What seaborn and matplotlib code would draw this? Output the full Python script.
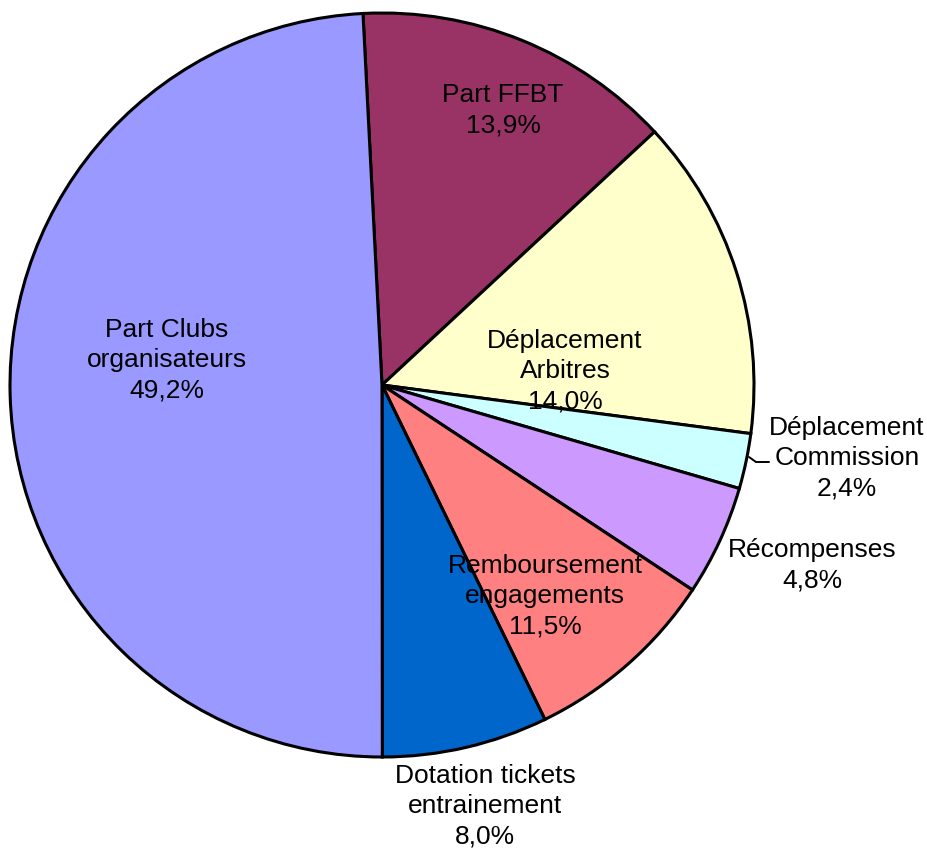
import matplotlib
matplotlib.use("Agg")
import matplotlib.pyplot as plt
import seaborn as sns

categories = ["Part FFBT", "Déplacement\nArbitres", "Déplacement\nCommission",
              "Récompenses", "Remboursement\nengagements",
              "Dotation tickets\nentrainement", "Part Clubs\norganisateurs"]
values = [13.9, 14.0, 2.4, 4.8, 8.5, 7.2, 49.2]
pct_labels = ["13,9%", "14,0%", "2,4%", "4,8%", "11,5%", "8,0%", "49,2%"]
colors = ["#993366", "#FFFFCC", "#CCFFFF", "#CC99FF", "#FF8080", "#0066CC", "#9999FF"]

sns.set_style("white")
plt.rcParams["font.family"] = ["Liberation Sans", "DejaVu Sans"]

W, H = 928, 850
cx, cy, R = 382, 385, 372
fig = plt.figure(figsize=(W / 100, H / 100), dpi=100)
ax = fig.add_axes([0, 0, 1, 1])

ax.pie(values, colors=colors, startangle=92.93, counterclock=False, radius=1.0,
       wedgeprops=dict(edgecolor="black", linewidth=2.2))

ax.set_xlim(-cx / R, (W - cx) / R)
ax.set_ylim(-(H - cy) / R, cy / R)
ax.set_aspect("equal")
ax.axis("off")

# label positions in pixels (layout)
label_px = [(503, 110), (565, 371), (847, 458), (812, 565), (545, 596), (485, 806), (167, 360)]
for cat, pct, (px, py) in zip(categories, pct_labels, label_px):
    ax.text((px - cx) / R, (cy - py) / R, f"{cat}\n{pct}", ha="center", va="center",
            fontsize=19, linespacing=1.32, color="black")

# leader line for Déplacement Commission
ax.plot([(749 - cx) / R, (756 - cx) / R, (769 - cx) / R],
        [(cy - 457) / R, (cy - 462) / R, (cy - 462) / R], color="black", linewidth=1.4)

fig.savefig("out.png", dpi=100)
